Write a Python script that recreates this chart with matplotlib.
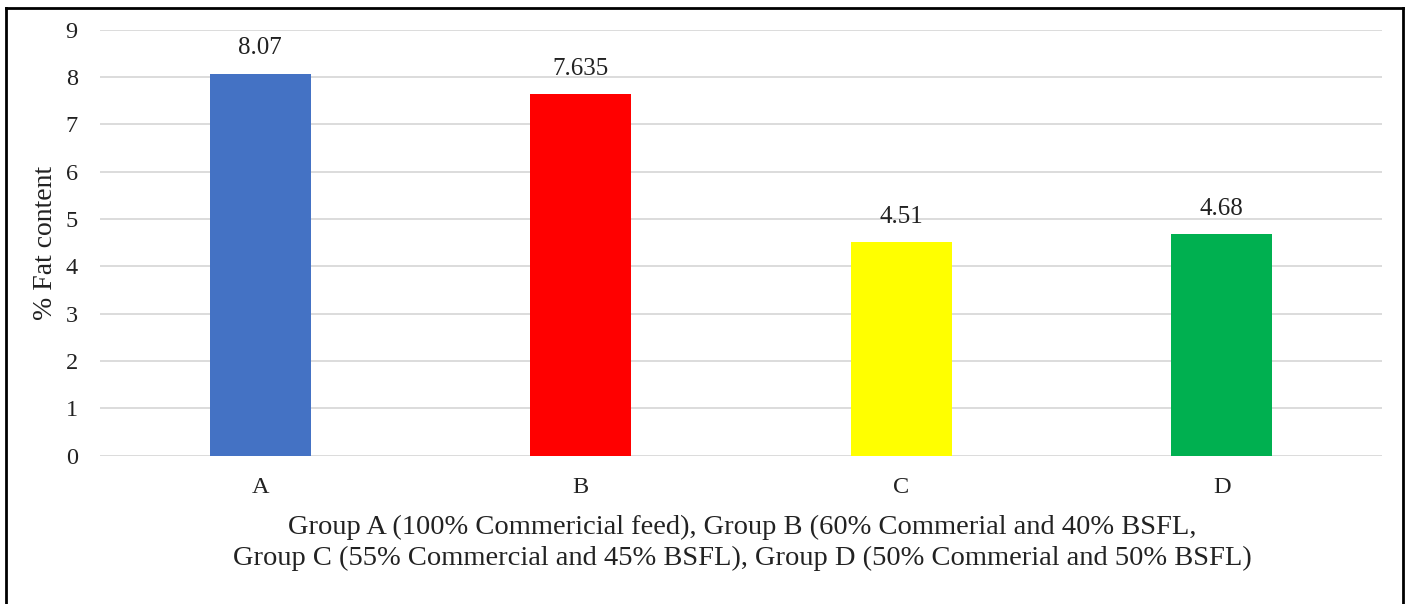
import matplotlib
matplotlib.use("Agg")
import matplotlib.pyplot as plt

categories = ["A", "B", "C", "D"]
values = [8.07, 7.635, 4.51, 4.68]
value_labels = ["8.07", "7.635", "4.51", "4.68"]
colors = ["#4472C4", "#FF0000", "#FFFF00", "#00B050"]
yticks = [0, 1, 2, 3, 4, 5, 6, 7, 8, 9]
ylabel = "% Fat content"
xlabel = ("Group A (100% Commericial feed), Group B (60% Commerial and 40% BSFL,\n"
          "Group C (55% Commercial and 45% BSFL), Group D (50% Commerial and 50% BSFL)")

plt.rcParams['font.family'] = ['Liberation Serif', 'DejaVu Serif']

W, H = 1409, 604
fig = plt.figure(figsize=(W / 100, H / 100), dpi=100)
ax = fig.add_axes([100 / W, 1 - 455.5 / H, (1382 - 100) / W, (455.5 - 29.5) / H])

x = list(range(len(categories)))
ax.bar(x, values, width=0.315, color=colors, zorder=3)
ax.set_xlim(-0.5, len(categories) - 0.5)
ax.set_ylim(0, 9)
ax.set_yticks(yticks)
ax.set_xticks(x)
ax.set_xticklabels(categories)
ax.grid(axis='y', color='#D9D9D9', linewidth=1.3, zorder=0)
for s in ax.spines.values():
    s.set_visible(False)
ax.tick_params(axis='both', length=0, labelsize=17.5, colors='#222222')
ax.tick_params(axis='y', pad=16)
ax.tick_params(axis='x', pad=15.5)

for xi, v, lab in zip(x, values, value_labels):
    ax.text(xi, v + 0.3, lab, ha='center', va='bottom', fontsize=18, color='#222222')

ax.set_ylabel(ylabel, fontsize=20, color='#222222')
ax.yaxis.set_label_coords(-0.033, 0.5)
fig.text(742 / W, 1 - 543 / H, xlabel, ha='center', va='center', fontsize=20.5,
         color='#222222', linespacing=1.3)

# outer frame (top, left, right)
fig.add_artist(plt.Line2D([6 / W, 6 / W], [0, 1 - 8 / H], transform=fig.transFigure, color='black', lw=2))
fig.add_artist(plt.Line2D([1403 / W, 1403 / W], [0, 1 - 8 / H], transform=fig.transFigure, color='black', lw=2))
fig.add_artist(plt.Line2D([6 / W, 1403 / W], [1 - 8 / H, 1 - 8 / H], transform=fig.transFigure, color='black', lw=2))

fig.savefig("out.png", dpi=100)
